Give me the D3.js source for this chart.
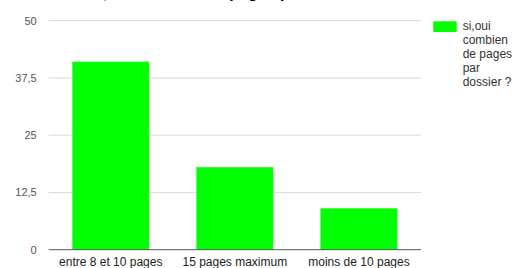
<!DOCTYPE html>
<html>
<head>
<meta charset="utf-8">
<script src="https://cdn.jsdelivr.net/npm/d3@7"></script>
<style>
  body { margin: 0; background: #fff; }
  svg { display: block; font-family: "Liberation Sans", Arial, sans-serif; }
</style>
</head>
<body>
<script>
// chart data
var categories = ["entre 8 et 10 pages", "15 pages maximum", "moins de 10 pages"];
var values = [41, 18, 9];
var tickValues = [0, 12.5, 25, 37.5, 50];
var tickLabels = ["0", "12,5", "25", "37,5", "50"];
var seriesName = ["si,oui", "combien", "de pages", "par", "dossier ?"];
var chartTitle = "si,oui combien de pages par dossier ?";

var svgWidth = 515;
var svgHeight = 268;

var chartMargin = { top: 20.7, right: 94, bottom: 18.3, left: 48.7 };
var chartWidth = svgWidth - chartMargin.left - chartMargin.right;
var chartHeight = svgHeight - chartMargin.top - chartMargin.bottom;

var svg = d3.select("body")
  .append("svg")
  .attr("width", svgWidth)
  .attr("height", svgHeight);

var chartGroup = svg.append("g")
  .attr("transform", `translate(${chartMargin.left}, ${chartMargin.top})`);

var xBandScale = d3.scaleBand()
  .domain(categories)
  .range([0, chartWidth])
  .paddingInner(0.384)
  .paddingOuter(0.192);

var yLinearScale = d3.scaleLinear()
  .domain([0, 50])
  .range([chartHeight, 0]);

// gridlines
chartGroup.selectAll(".grid")
  .data(tickValues.slice(1))
  .enter()
  .append("line")
  .attr("x1", 0)
  .attr("x2", chartWidth)
  .attr("y1", d => yLinearScale(d))
  .attr("y2", d => yLinearScale(d))
  .attr("stroke", "#d9d9d9")
  .attr("stroke-width", 1);

// y tick labels
chartGroup.selectAll(".ylab")
  .data(tickValues)
  .enter()
  .append("text")
  .attr("x", -12)
  .attr("y", d => yLinearScale(d) + 4)
  .attr("text-anchor", "end")
  .attr("font-size", "11px")
  .attr("fill", "#555")
  .text((d, i) => tickLabels[i]);

// bars
chartGroup.selectAll(".bar")
  .data(values)
  .enter()
  .append("rect")
  .attr("class", "bar")
  .attr("x", (d, i) => xBandScale(categories[i]))
  .attr("y", d => yLinearScale(d))
  .attr("width", xBandScale.bandwidth())
  .attr("height", d => chartHeight - yLinearScale(d))
  .attr("fill", "#00ff00")
  .attr("stroke", "#44ee44")
  .attr("stroke-width", 0.6);

// baseline
chartGroup.append("line")
  .attr("x1", 0)
  .attr("x2", chartWidth)
  .attr("y1", yLinearScale(0))
  .attr("y2", yLinearScale(0))
  .attr("stroke", "#555")
  .attr("stroke-width", 1);

// x labels
var bottomAxis = d3.axisBottom(xBandScale).tickSize(0).tickPadding(8);
var xAxisGroup = chartGroup.append("g")
  .attr("transform", `translate(0, ${chartHeight})`)
  .call(bottomAxis);
xAxisGroup.select(".domain").remove();
xAxisGroup.selectAll("text")
  .attr("font-family", "Liberation Sans, Arial, sans-serif")
  .attr("font-size", "12px")
  .attr("fill", "#222");

// legend
var legend = svg.append("g").attr("transform", "translate(433.3, 21.3)");
legend.append("rect")
  .attr("width", 23.4)
  .attr("height", 10.7)
  .attr("fill", "#00ff00");
legend.selectAll("text")
  .data(seriesName)
  .enter()
  .append("text")
  .attr("x", 29.4)
  .attr("y", (d, i) => 9 + i * 14)
  .attr("font-size", "12px")
  .attr("fill", "#333")
  .text(d => d);

// title (cut off at the top)
svg.append("text")
  .attr("x", 235)
  .attr("y", -2)
  .attr("text-anchor", "middle")
  .attr("font-size", "16px")
  .attr("font-weight", "bold")
  .attr("fill", "#000")
  .text(chartTitle);
</script>
</body>
</html>
